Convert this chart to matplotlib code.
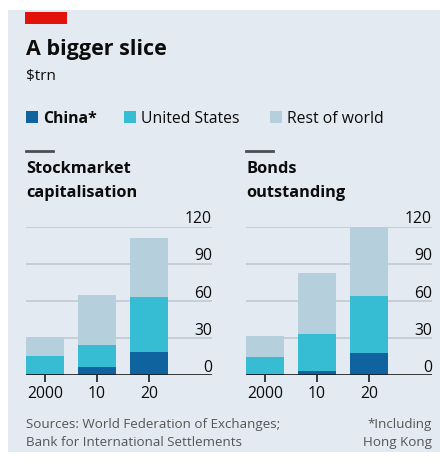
import matplotlib
matplotlib.use("Agg")
import matplotlib.pyplot as plt
from matplotlib.patches import Rectangle
from matplotlib.transforms import blended_transform_factory
import numpy as np

plt.rcParams['font.family'] = ['Open Sans', 'DejaVu Sans']

years = ["2000", "10", "20"]
series = ["China*", "United States", "Rest of world"]

# $trn, stacked: China, United States, rest of world
stock_china = [0.5, 6.7, 18.3]
stock_us = [14.9, 17.6, 45.0]
stock_rest = [15.1, 40.4, 47.2]

bond_china = [0.5, 3.2, 17.5]
bond_us = [14.3, 29.9, 46.6]
bond_rest = [17.0, 49.6, 55.3]

yticks = [0, 30, 60, 90, 120]

colors = ["#0f64a0", "#36bcd3", "#b5cfdd"]
bg = "#e3eaf1"
W, H = 440, 461

fig = plt.figure(figsize=(W / 100, H / 100), dpi=100)
fig.patch.set_facecolor("white")
fig.add_artist(Rectangle((8 / W, 1 - 452 / H), 432 / W, 442 / H,
                         transform=fig.transFigure, facecolor=bg,
                         edgecolor="none", zorder=-10))
fig.add_artist(Rectangle((25 / W, 1 - 24 / H), 42 / W, 12 / H,
                         transform=fig.transFigure, facecolor="#e3120b",
                         edgecolor="none", zorder=-9))


def fx(px):
    return px / W


def fy(py):
    return 1 - py / H


fig.text(fx(26), fy(55), "A bigger slice", fontsize=15.5, fontweight="bold",
         color="#0c0c0c", va="baseline")
fig.text(fx(26), fy(80), "$trn", fontsize=11, color="#0c0c0c", va="baseline")

# legend
legend_x = [26, 124, 270]
for x0, name, c in zip(legend_x, series, colors):
    fig.add_artist(Rectangle((fx(x0), fy(123)), 12 / W, 12 / H,
                             transform=fig.transFigure, facecolor=c,
                             edgecolor="none"))
    fig.text(fx(x0 + 17), fy(123), name, fontsize=11.3, color="#0c0c0c",
             va="baseline", fontweight="bold" if name == "China*" else "normal")


def panel(left, title, china, us, rest):
    ax = fig.add_axes([fx(left), fy(375), 186 / W, 148.3 / H])
    ax.set_facecolor("none")
    x = np.arange(len(years))
    china = np.array(china)
    us = np.array(us)
    rest = np.array(rest)
    ax.bar(x, china, 0.72, color=colors[0], zorder=3)
    ax.bar(x, us, 0.72, bottom=china, color=colors[1], zorder=3)
    ax.bar(x, rest, 0.72, bottom=china + us, color=colors[2], zorder=3)
    ax.set_xlim(-0.36, 3.2)
    ax.set_ylim(0, 120)
    for s in ax.spines.values():
        s.set_visible(False)
    ax.set_yticks([])
    for v in yticks[1:]:
        ax.axhline(v, color="#bec7cf", lw=1.1, zorder=1)
    ax.axhline(0, color="#1a1a1a", lw=1.2, zorder=4)
    trans = blended_transform_factory(ax.transAxes, ax.transData)
    for v in yticks:
        ax.text(1.0, v + 2.7, str(v), transform=trans, ha="right",
                va="baseline", fontsize=11.3, color="#0c0c0c")
    ax.set_xticks(x)
    ax.set_xticklabels(years, fontsize=11.3, color="#0c0c0c")
    ax.tick_params(axis="x", length=5, width=1.2, color="#1a1a1a", pad=3)
    # panel heading with short rule
    fig.add_artist(plt.Line2D([fx(left), fx(left + 27)], [fy(151), fy(151)],
                              color="#4a4f55", lw=2))
    fig.text(fx(left), fy(173), title[0], fontsize=11.8, fontweight="bold",
             color="#0c0c0c", va="baseline")
    fig.text(fx(left), fy(197), title[1], fontsize=11.8, fontweight="bold",
             color="#0c0c0c", va="baseline")
    return ax


panel(26, ("Stockmarket", "capitalisation"), stock_china, stock_us, stock_rest)
panel(246, ("Bonds", "outstanding"), bond_china, bond_us, bond_rest)

foot = dict(fontsize=9.6, color="#555555", va="baseline")
fig.text(fx(26), fy(428), "Sources: World Federation of Exchanges;", **foot)
fig.text(fx(26), fy(446), "Bank for International Settlements", **foot)
fig.text(fx(432), fy(428), "*Including", ha="right", **foot)
fig.text(fx(432), fy(446), "Hong Kong", ha="right", **foot)

fig.savefig("out.png", dpi=100, facecolor=fig.get_facecolor())
